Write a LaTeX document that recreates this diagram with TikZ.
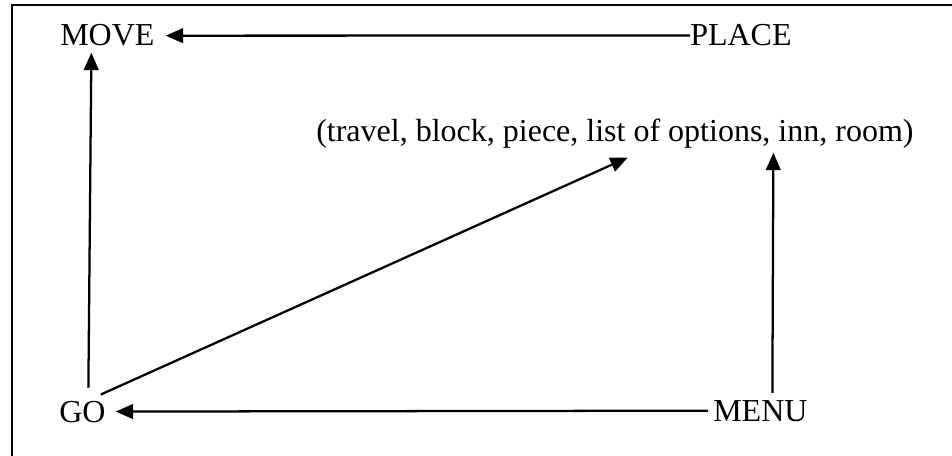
\documentclass[tikz,border=0pt]{standalone}
\usepackage{fontspec}
\setmainfont{Liberation Serif}
\usetikzlibrary{arrows.meta,calc}
\begin{document}
\begin{tikzpicture}[x=0.75pt,y=-0.75pt,
  lbl/.style={inner sep=0pt,anchor=base west,font=\fontsize{24}{28}\selectfont},
  arr/.style={line width=1.7pt,-{Triangle[length=13pt,width=11pt]}},
  frame/.style={line width=1.8pt}]
\useasboundingbox (0,0) rectangle (952,456);
\draw[frame] (12,456) -- (12,5) -- (952,5);
\node[lbl] (move) at (60,46) {MOVE};
\node[lbl] (place) at (690,46) {PLACE};
\node[lbl] (list) at (316,142) {(travel, block, piece, list of options, inn, room)};
\node[lbl] (go) at (59,422) {GO};
\node[lbl] (menu) at (713,421) {MENU};
\draw[arr] (place.west) -- ($(move.east)+(11,0)$);
\draw[arr] ($(go.north)+(6,-13)$) -- ($(move.south)+(-16,6)$);
\draw[arr] ($(go.north east)+(-5,-6)$) -- ($(go.north east)+(522,-243)$);
\draw[arr] ($(menu.west)+(-5,0)$) -- ($(go.east)+(10,0)$);
\draw[arr] ($(menu.north)+(12,-7)$) -- ($(menu.north)+(13,-247)$);
\end{tikzpicture}
\end{document}
